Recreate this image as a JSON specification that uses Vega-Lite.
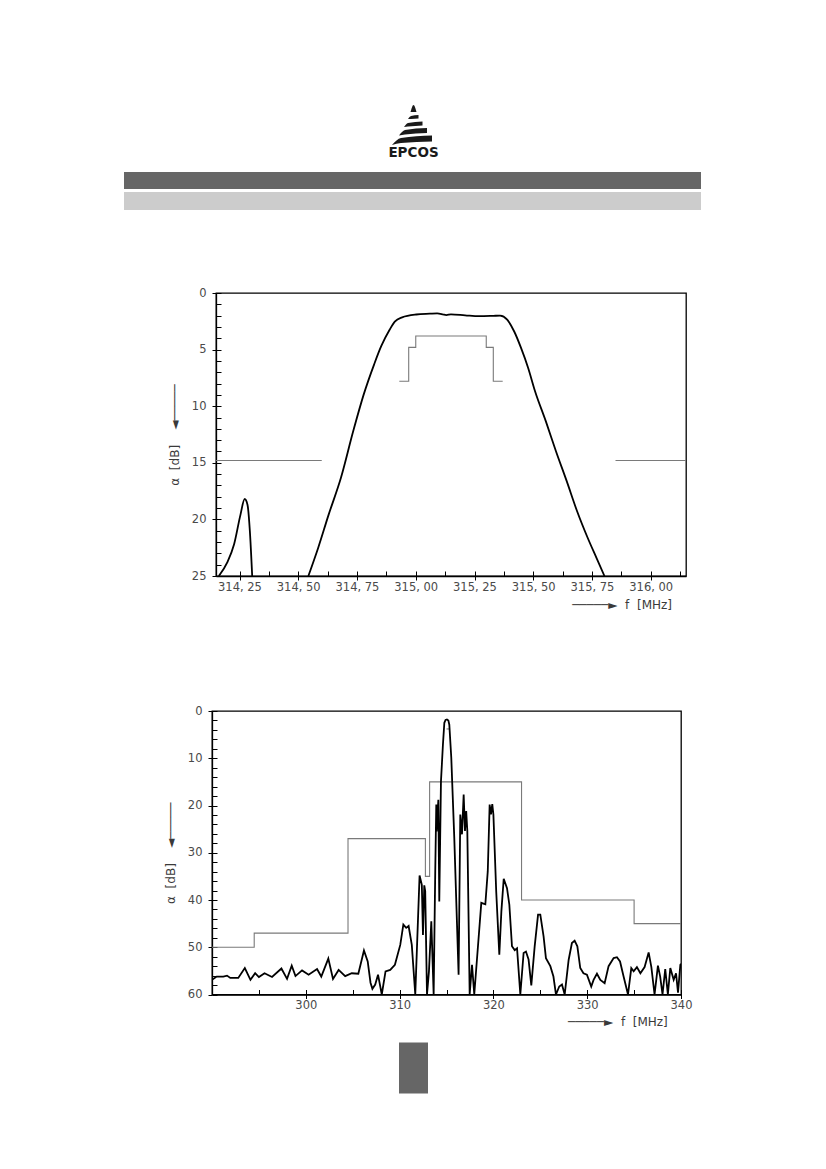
{
  "$schema": "https://vega.github.io/schema/vega-lite/v6.json",
  "background": "white",
  "padding": {"left": 124, "top": 100, "right": 10, "bottom": 10},
  "config": {
    "view": {"stroke": "#000", "strokeWidth": 1.3},
    "concat": {"spacing": 0},
    "axis": {
      "grid": false,
      "labelFont": "DejaVu Sans",
      "labelFontSize": 11.5,
      "labelColor": "#4a4a4a",
      "labelFlush": false,
      "labelOverlap": false,
      "titleFont": "DejaVu Sans",
      "titleFontSize": 12,
      "titleFontWeight": "normal",
      "titleColor": "#4a4a4a",
      "domainColor": "#000",
      "domainWidth": 1.3,
      "tickColor": "#000",
      "tickWidth": 1
    }
  },
  "datasets": {
    "header_bars": [
      {"x0": 0, "x1": 577, "y0": 72, "y1": 89, "part": "dark"},
      {"x0": 0, "x1": 577, "y0": 92, "y1": 110, "part": "light"}
    ],
    "logo": [
      {"band": "apex", "x": 286.5, "top": 12, "bottom": 12},
      {"band": "apex", "x": 289.5, "top": 5, "bottom": 12},
      {"band": "apex", "x": 292.5, "top": 12, "bottom": 12},
      {"band": "s1", "x": 284, "top": 19, "bottom": 19},
      {"band": "s1", "x": 287, "top": 16, "bottom": 19},
      {"band": "s1", "x": 294.5, "top": 15, "bottom": 18.5},
      {"band": "s2", "x": 280, "top": 27, "bottom": 27},
      {"band": "s2", "x": 284, "top": 23, "bottom": 26.5},
      {"band": "s2", "x": 298.5, "top": 21.5, "bottom": 25.5},
      {"band": "s3", "x": 275, "top": 35.5, "bottom": 35.5},
      {"band": "s3", "x": 281, "top": 30, "bottom": 34.5},
      {"band": "s3", "x": 303, "top": 28, "bottom": 33},
      {"band": "s4", "x": 268, "top": 45, "bottom": 45},
      {"band": "s4", "x": 277, "top": 38, "bottom": 43},
      {"band": "s4", "x": 308, "top": 35.5, "bottom": 41.5}
    ],
    "brand": [{"x": 289.5, "y": 53, "label": "EPCOS"}],
    "footer": [{"x0": 275, "x1": 304, "y0": 13.5, "y1": 64.5}],
    "top_mask": [
      {"seg": "left", "f": 314.15, "a": 14.8},
      {"seg": "left", "f": 314.6, "a": 14.8},
      {"seg": "pass", "f": 314.93, "a": 7.8},
      {"seg": "pass", "f": 314.97, "a": 4.8},
      {"seg": "pass", "f": 315.0, "a": 3.8},
      {"seg": "pass", "f": 315.3, "a": 4.8},
      {"seg": "pass", "f": 315.33, "a": 7.8},
      {"seg": "pass", "f": 315.37, "a": 7.8},
      {"seg": "right", "f": 315.85, "a": 14.8},
      {"seg": "right", "f": 316.15, "a": 14.8}
    ],
    "top_curve": [
      {"seg": "spur", "f": 314.162, "a": 25},
      {"seg": "spur", "f": 314.198, "a": 23.8},
      {"seg": "spur", "f": 314.227, "a": 22.2},
      {"seg": "spur", "f": 314.254, "a": 19.6},
      {"seg": "spur", "f": 314.272, "a": 18.2},
      {"seg": "spur", "f": 314.284, "a": 18.7},
      {"seg": "spur", "f": 314.294, "a": 21},
      {"seg": "spur", "f": 314.304, "a": 25},
      {"seg": "main", "f": 314.543, "a": 25},
      {"seg": "main", "f": 314.585, "a": 22.5},
      {"seg": "main", "f": 314.629, "a": 19.6},
      {"seg": "main", "f": 314.682, "a": 16.3},
      {"seg": "main", "f": 314.734, "a": 12.2},
      {"seg": "main", "f": 314.778, "a": 9.0},
      {"seg": "main", "f": 314.823, "a": 6.3},
      {"seg": "main", "f": 314.853, "a": 4.7},
      {"seg": "main", "f": 314.89, "a": 3.2},
      {"seg": "main", "f": 314.912, "a": 2.5},
      {"seg": "main", "f": 314.942, "a": 2.15},
      {"seg": "main", "f": 315.002, "a": 1.9},
      {"seg": "main", "f": 315.06, "a": 1.83},
      {"seg": "main", "f": 315.091, "a": 1.8},
      {"seg": "main", "f": 315.115, "a": 1.88},
      {"seg": "main", "f": 315.13, "a": 1.95},
      {"seg": "main", "f": 315.15, "a": 1.88},
      {"seg": "main", "f": 315.21, "a": 1.97},
      {"seg": "main", "f": 315.27, "a": 2.05},
      {"seg": "main", "f": 315.33, "a": 2.02},
      {"seg": "main", "f": 315.359, "a": 2.0},
      {"seg": "main", "f": 315.389, "a": 2.35},
      {"seg": "main", "f": 315.419, "a": 3.4},
      {"seg": "main", "f": 315.448, "a": 4.85},
      {"seg": "main", "f": 315.478, "a": 6.6},
      {"seg": "main", "f": 315.508, "a": 8.7},
      {"seg": "main", "f": 315.553, "a": 11.3},
      {"seg": "main", "f": 315.597, "a": 14.0},
      {"seg": "main", "f": 315.642, "a": 16.6},
      {"seg": "main", "f": 315.687, "a": 19.3},
      {"seg": "main", "f": 315.731, "a": 21.6},
      {"seg": "main", "f": 315.769, "a": 23.4},
      {"seg": "main", "f": 315.803, "a": 25}
    ],
    "bottom_mask": [
      {"seg": "main", "f": 290, "a": 50},
      {"seg": "main", "f": 294.5, "a": 47},
      {"seg": "main", "f": 304.5, "a": 27},
      {"seg": "main", "f": 312.75, "a": 35},
      {"seg": "main", "f": 313.2, "a": 15},
      {"seg": "main", "f": 323, "a": 40},
      {"seg": "main", "f": 335, "a": 45},
      {"seg": "main", "f": 340, "a": 45},
      {"seg": "pass", "f": 315.0, "a": 3.8},
      {"seg": "pass", "f": 315.3, "a": 3.8}
    ],
    "bottom_curve": [
      {"f": 290.0, "a": 56.9}, {"f": 290.5, "a": 56.2}, {"f": 291.2, "a": 56.2},
      {"f": 291.6, "a": 56.0}, {"f": 291.95, "a": 56.5}, {"f": 292.8, "a": 56.5},
      {"f": 293.5, "a": 54.4}, {"f": 294.1, "a": 56.9}, {"f": 294.6, "a": 55.5},
      {"f": 295.0, "a": 56.3}, {"f": 295.6, "a": 55.5}, {"f": 296.4, "a": 56.3},
      {"f": 297.4, "a": 54.5}, {"f": 298.0, "a": 56.7}, {"f": 298.5, "a": 53.9},
      {"f": 298.9, "a": 56.1}, {"f": 299.6, "a": 54.9}, {"f": 300.3, "a": 55.8},
      {"f": 301.2, "a": 54.6}, {"f": 301.65, "a": 56.2}, {"f": 302.4, "a": 52.4},
      {"f": 302.9, "a": 56.7}, {"f": 303.5, "a": 54.8}, {"f": 304.2, "a": 56.1},
      {"f": 304.9, "a": 55.5}, {"f": 305.6, "a": 55.6}, {"f": 306.2, "a": 50.7},
      {"f": 306.6, "a": 53.0}, {"f": 306.9, "a": 57.5}, {"f": 307.1, "a": 58.8},
      {"f": 307.4, "a": 57.9}, {"f": 307.7, "a": 55.8}, {"f": 308.1, "a": 60},
      {"f": 308.5, "a": 55.1}, {"f": 309.0, "a": 54.8}, {"f": 309.5, "a": 53.7},
      {"f": 310.07, "a": 49.5}, {"f": 310.4, "a": 45.2}, {"f": 310.7, "a": 45.9},
      {"f": 310.96, "a": 45.5}, {"f": 311.3, "a": 49.5}, {"f": 311.67, "a": 60},
      {"f": 312.13, "a": 34.8}, {"f": 312.37, "a": 36.8}, {"f": 312.49, "a": 47.4},
      {"f": 312.63, "a": 36.9}, {"f": 312.73, "a": 38.1}, {"f": 312.92, "a": 60},
      {"f": 313.13, "a": 55.1}, {"f": 313.38, "a": 44.5}, {"f": 313.63, "a": 60},
      {"f": 313.8, "a": 33.9}, {"f": 313.91, "a": 19.8}, {"f": 313.95, "a": 25.5},
      {"f": 314.13, "a": 18.8}, {"f": 314.23, "a": 40.3}, {"f": 314.41, "a": 14.9},
      {"f": 314.62, "a": 7.1}, {"f": 314.77, "a": 2.5}, {"f": 314.9, "a": 1.9},
      {"f": 315.05, "a": 1.8}, {"f": 315.2, "a": 2.0}, {"f": 315.3, "a": 2.9},
      {"f": 315.51, "a": 9.9}, {"f": 315.83, "a": 26.9}, {"f": 316.29, "a": 55.8},
      {"f": 316.47, "a": 21.9}, {"f": 316.65, "a": 26.1}, {"f": 316.83, "a": 17.7},
      {"f": 316.97, "a": 25.4}, {"f": 317.1, "a": 21.2}, {"f": 317.22, "a": 25.4},
      {"f": 317.47, "a": 60}, {"f": 317.72, "a": 53.7}, {"f": 317.96, "a": 60},
      {"f": 318.42, "a": 48.1}, {"f": 318.71, "a": 40.6}, {"f": 319.14, "a": 40.9},
      {"f": 319.4, "a": 33.9}, {"f": 319.6, "a": 19.8}, {"f": 319.74, "a": 21.9},
      {"f": 319.88, "a": 19.7}, {"f": 320.0, "a": 21.9}, {"f": 320.3, "a": 38.2},
      {"f": 320.63, "a": 51.6}, {"f": 320.85, "a": 42.4}, {"f": 321.1, "a": 35.5},
      {"f": 321.45, "a": 37.5}, {"f": 321.7, "a": 41.0}, {"f": 321.98, "a": 49.8},
      {"f": 322.27, "a": 50.6}, {"f": 322.52, "a": 50.2}, {"f": 322.87, "a": 60},
      {"f": 323.22, "a": 51.2}, {"f": 323.47, "a": 50.9}, {"f": 323.75, "a": 52.6},
      {"f": 324.04, "a": 58.1}, {"f": 324.4, "a": 49.8}, {"f": 324.76, "a": 43.1},
      {"f": 325.0, "a": 43.1}, {"f": 325.35, "a": 47.7}, {"f": 325.6, "a": 52.3},
      {"f": 326.07, "a": 54.0}, {"f": 326.4, "a": 56.2}, {"f": 326.67, "a": 60},
      {"f": 327.02, "a": 58.3}, {"f": 327.31, "a": 57.9}, {"f": 327.6, "a": 60},
      {"f": 328.02, "a": 52.7}, {"f": 328.37, "a": 49.1}, {"f": 328.66, "a": 48.6},
      {"f": 328.95, "a": 49.8}, {"f": 329.26, "a": 54.4}, {"f": 329.6, "a": 55.5},
      {"f": 329.97, "a": 55.8}, {"f": 330.43, "a": 58.3}, {"f": 330.68, "a": 56.9},
      {"f": 331.04, "a": 55.6}, {"f": 331.4, "a": 56.9}, {"f": 331.86, "a": 57.6},
      {"f": 332.28, "a": 54.0}, {"f": 332.82, "a": 52.3}, {"f": 333.17, "a": 52.1},
      {"f": 333.5, "a": 53.0}, {"f": 333.88, "a": 56.2}, {"f": 334.35, "a": 60},
      {"f": 334.7, "a": 54.4}, {"f": 334.95, "a": 55.1}, {"f": 335.3, "a": 54.2},
      {"f": 335.67, "a": 55.5}, {"f": 336.12, "a": 54.2}, {"f": 336.55, "a": 51.1},
      {"f": 336.84, "a": 54.2}, {"f": 337.18, "a": 60}, {"f": 337.54, "a": 53.9},
      {"f": 337.78, "a": 56.2}, {"f": 338.03, "a": 60}, {"f": 338.32, "a": 54.6},
      {"f": 338.6, "a": 60}, {"f": 338.86, "a": 54.4}, {"f": 339.22, "a": 56.9},
      {"f": 339.47, "a": 55.5}, {"f": 339.68, "a": 59.6}, {"f": 339.93, "a": 53.7},
      {"f": 340.0, "a": 53.5}
    ]
  },
  "vconcat": [
    {
      "width": 577,
      "height": 186,
      "view": {"stroke": null},
      "layer": [
        {
          "data": {"name": "header_bars"},
          "mark": {"type": "rect"},
          "encoding": {
            "x": {"field": "x0", "type": "quantitative", "scale": {"domain": [0, 577], "nice": false}, "axis": null},
            "x2": {"field": "x1"},
            "y": {"field": "y0", "type": "quantitative", "scale": {"domain": [0, 186], "nice": false, "reverse": true}, "axis": null},
            "y2": {"field": "y1"},
            "color": {"field": "part", "type": "nominal", "scale": {"domain": ["dark", "light"], "range": ["#666666", "#cccccc"]}, "legend": null}
          }
        },
        {
          "data": {"name": "logo"},
          "mark": {"type": "area", "color": "#1a1a1a", "interpolate": "monotone"},
          "encoding": {
            "x": {"field": "x", "type": "quantitative"},
            "y": {"field": "top", "type": "quantitative"},
            "y2": {"field": "bottom"},
            "detail": {"field": "band", "type": "nominal"}
          }
        },
        {
          "data": {"name": "brand"},
          "mark": {"type": "text", "font": "DejaVu Sans", "fontWeight": "bold", "fontSize": 13.5, "color": "#1a1a1a", "baseline": "middle", "align": "center"},
          "encoding": {
            "x": {"field": "x", "type": "quantitative"},
            "y": {"field": "y", "type": "quantitative"},
            "text": {"field": "label"}
          }
        }
      ]
    },
    {
      "spacing": 0,
      "hconcat": [
        {"width": 43, "height": 10, "view": {"stroke": null}, "data": {"values": [{}]}, "mark": {"type": "point", "opacity": 0}},
        {
          "width": 470,
          "height": 283,
          "layer": [
            {
              "data": {"name": "top_mask"},
              "mark": {"type": "line", "color": "#7a7a7a", "strokeWidth": 1.1, "interpolate": "step-after"},
              "encoding": {
                "x": {
                  "field": "f", "type": "quantitative",
                  "scale": {"domain": [314.15, 316.15], "nice": false, "zero": false},
                  "axis": {
                    "orient": "bottom",
                    "values": [314.25, 314.5, 314.75, 315, 315.25, 315.5, 315.75, 316],
                    "labelExpr": "replace(format(datum.value, '.2f'), '.', ', ')",
                    "labelColor": "#4a4a4a", "titleColor": "#3a3a3a",
                    "tickSize": 4, "labelPadding": 1,
                    "title": "─────►\u00a0\u00a0f\u00a0\u00a0[MHz]",
                    "titleAlign": "right", "titleAnchor": "end", "titleBaseline": "middle",
                    "titleX": 455.5, "titleY": 28
                  }
                },
                "y": {
                  "field": "a", "type": "quantitative",
                  "scale": {"domain": [0, 25], "nice": false, "zero": false, "reverse": true},
                  "axis": {
                    "orient": "left",
                    "values": [0, 5, 10, 15, 20, 25],
                    "labelColor": "#4a4a4a", "titleColor": "#3a3a3a",
                    "tickSize": 4, "labelPadding": 6,
                    "title": "α\u00a0\u00a0[dB]\u00a0\u00a0\u00a0\u00a0◄─────",
                    "titlePadding": 10
                  }
                },
                "detail": {"field": "seg", "type": "nominal"}
              }
            },
            {
              "data": {"name": "top_curve"},
              "mark": {"type": "line", "color": "#000", "strokeWidth": 1.8, "interpolate": "monotone", "clip": true},
              "encoding": {
                "x": {
                  "field": "f", "type": "quantitative",
                  "axis": {
                    "orient": "bottom",
                    "values": [314.25, 314.375, 314.5, 314.625, 314.75, 314.875, 315, 315.125, 315.25, 315.375, 315.5, 315.625, 315.75, 315.875, 316, 316.125],
                    "tickSize": -5, "labels": false, "domain": false, "title": null
                  }
                },
                "y": {
                  "field": "a", "type": "quantitative",
                  "axis": {
                    "orient": "left",
                    "values": [0, 1, 2, 3, 4, 5, 6, 7, 8, 9, 10, 11, 12, 13, 14, 15, 16, 17, 18, 19, 20, 21, 22, 23, 24, 25],
                    "tickSize": -5, "labels": false, "domain": false, "title": null
                  }
                },
                "detail": {"field": "seg", "type": "nominal"}
              }
            }
          ],
          "resolve": {"axis": {"x": "independent", "y": "independent"}}
        }
      ]
    },
    {"width": 10, "height": 93, "view": {"stroke": null}, "data": {"values": [{}]}, "mark": {"type": "point", "opacity": 0}},
    {
      "spacing": 0,
      "hconcat": [
        {"width": 38.9, "height": 10, "view": {"stroke": null}, "data": {"values": [{}]}, "mark": {"type": "point", "opacity": 0}},
        {
          "width": 469,
          "height": 283.5,
          "layer": [
            {
              "data": {"name": "bottom_mask"},
              "mark": {"type": "line", "color": "#7a7a7a", "strokeWidth": 1.1, "interpolate": "step-after"},
              "encoding": {
                "x": {
                  "field": "f", "type": "quantitative",
                  "scale": {"domain": [290, 340], "nice": false, "zero": false},
                  "axis": {
                    "orient": "bottom",
                    "values": [300, 310, 320, 330, 340],
                    "labelColor": "#4a4a4a", "titleColor": "#3a3a3a",
                    "tickSize": 4, "labelPadding": 1,
                    "title": "─────►\u00a0\u00a0f\u00a0\u00a0[MHz]",
                    "titleAlign": "right", "titleAnchor": "end", "titleBaseline": "middle",
                    "titleX": 455.3, "titleY": 27
                  }
                },
                "y": {
                  "field": "a", "type": "quantitative",
                  "scale": {"domain": [0, 60], "nice": false, "zero": false, "reverse": true},
                  "axis": {
                    "orient": "left",
                    "values": [0, 10, 20, 30, 40, 50, 60],
                    "labelColor": "#4a4a4a", "titleColor": "#3a3a3a",
                    "tickSize": 4, "labelPadding": 6,
                    "title": "α\u00a0\u00a0[dB]\u00a0\u00a0\u00a0\u00a0◄─────",
                    "titlePadding": 10
                  }
                },
                "detail": {"field": "seg", "type": "nominal"}
              }
            },
            {
              "data": {"name": "bottom_curve"},
              "mark": {"type": "line", "color": "#000", "strokeWidth": 1.8, "clip": true},
              "encoding": {
                "x": {
                  "field": "f", "type": "quantitative",
                  "axis": {
                    "orient": "bottom",
                    "values": [295, 300, 305, 310, 315, 320, 325, 330, 335, 340],
                    "tickSize": -5, "labels": false, "domain": false, "title": null
                  }
                },
                "y": {
                  "field": "a", "type": "quantitative",
                  "axis": {
                    "orient": "left",
                    "values": [0, 2, 4, 6, 8, 10, 12, 14, 16, 18, 20, 22, 24, 26, 28, 30, 32, 34, 36, 38, 40, 42, 44, 46, 48, 50, 52, 54, 56, 58, 60],
                    "tickSize": -5, "labels": false, "domain": false, "title": null
                  }
                }
              }
            }
          ],
          "resolve": {"axis": {"x": "independent", "y": "independent"}}
        }
      ]
    },
    {
      "width": 577,
      "height": 68,
      "view": {"stroke": null},
      "data": {"name": "footer"},
      "mark": {"type": "rect", "color": "#666666"},
      "encoding": {
        "x": {"field": "x0", "type": "quantitative", "scale": {"domain": [0, 577], "nice": false}, "axis": null},
        "x2": {"field": "x1"},
        "y": {"field": "y0", "type": "quantitative", "scale": {"domain": [0, 68], "nice": false, "reverse": true}, "axis": null},
        "y2": {"field": "y1"}
      }
    }
  ]
}
